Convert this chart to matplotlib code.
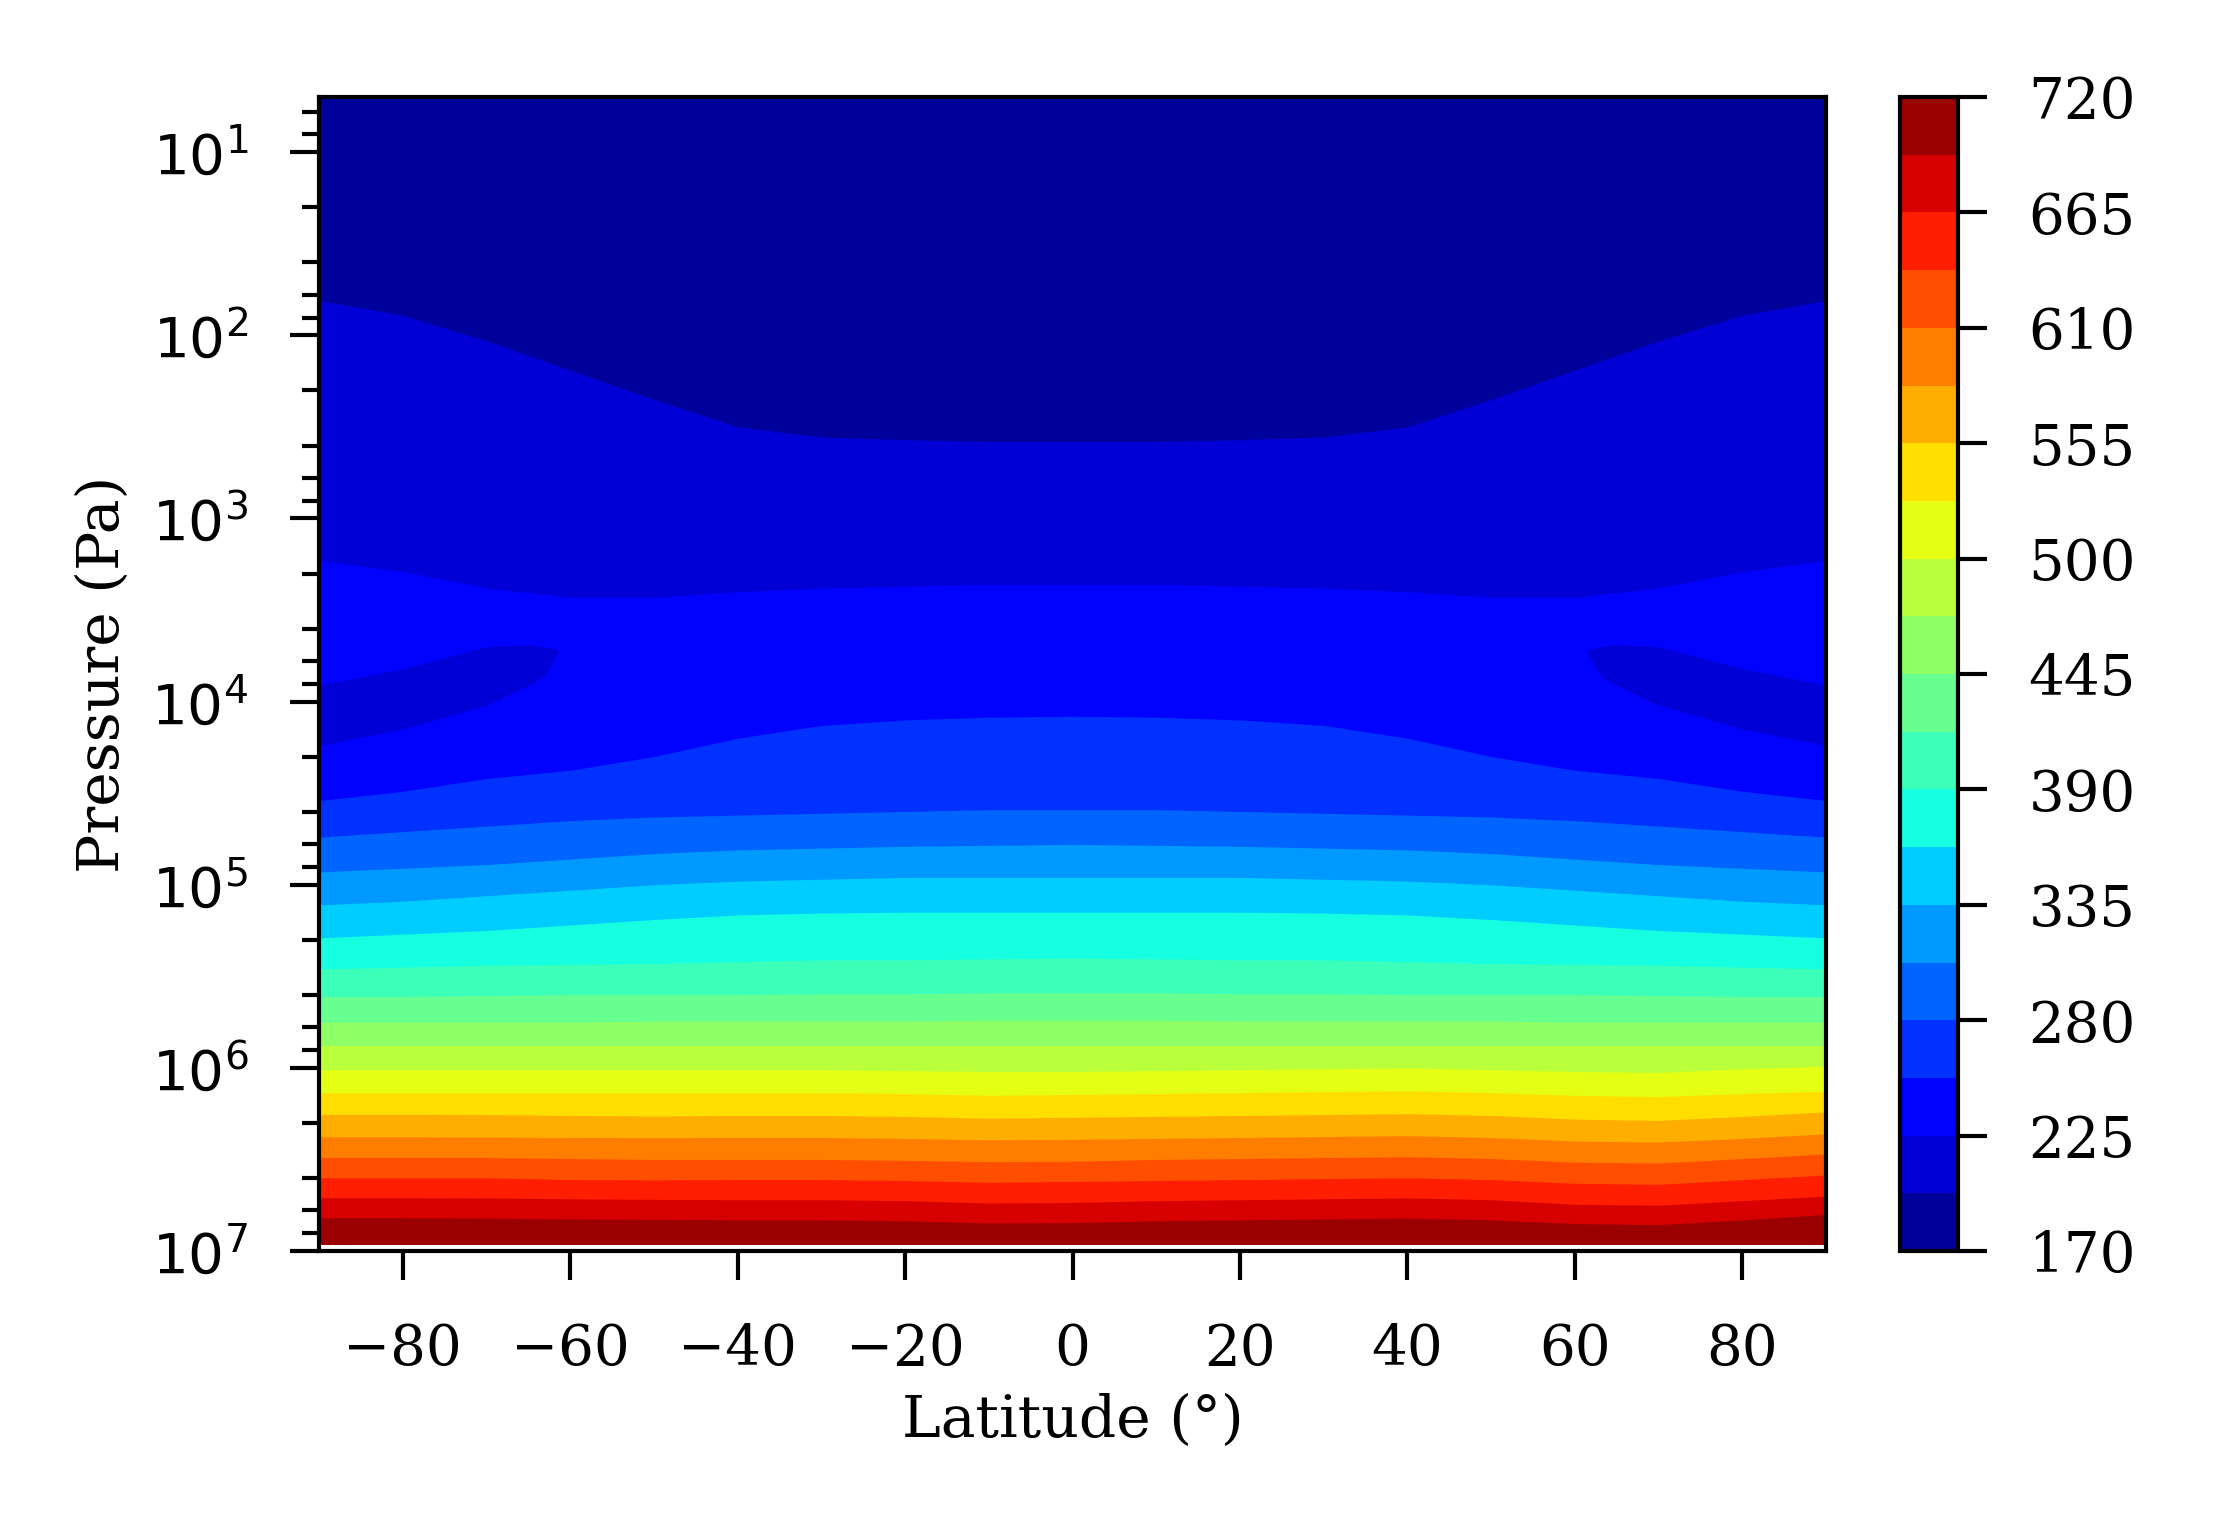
import matplotlib
matplotlib.use("Agg")
import matplotlib.pyplot as plt
import numpy as np
from matplotlib import ticker
from matplotlib.colors import ListedColormap, BoundaryNorm
from matplotlib.cm import ScalarMappable

plt.rcParams['font.family'] = 'DejaVu Serif'
plt.rcParams['mathtext.fontset'] = 'dejavusans'

# latitudes of the read-off points (deg)
lat = [-90, -80, -70, -60, -50, -40, -30, -20, -10, 0, 10, 20, 30, 40, 50, 60, 70, 80, 90]

# temperature levels of the contour bands (K)
levels = [170, 197.5, 225, 252.5, 280, 307.5, 335, 362.5, 390, 417.5, 445,
          472.5, 500, 527.5, 555, 582.5, 610, 637.5, 665, 692.5, 720]
cbar_ticks = [170, 225, 280, 335, 390, 445, 500, 555, 610, 665, 720]
p_ticks = [1e1, 1e2, 1e3, 1e4, 1e5, 1e6, 1e7]
lat_ticks = [-80, -60, -40, -20, 0, 20, 40, 60, 80]

# depth (log10 of pressure in Pa) of each isotherm, read at every latitude
lp_1975 = [1.81, 1.89, 2.03, 2.19, 2.35, 2.50, 2.555, 2.57, 2.58, 2.58, 2.58, 2.57, 2.555, 2.50, 2.35, 2.19, 2.03, 1.89, 1.81]
lp_2250 = [3.23, 3.29, 3.38, 3.43, 3.43, 3.40, 3.38, 3.37, 3.36, 3.36, 3.36, 3.37, 3.38, 3.40, 3.43, 3.43, 3.38, 3.29, 3.23]
lp_2525 = [4.54, 4.49, 4.42, 4.375, 4.30, 4.20, 4.13, 4.10, 4.085, 4.08, 4.085, 4.10, 4.13, 4.20, 4.30, 4.375, 4.42, 4.49, 4.54]
lp_2800 = [4.74, 4.71, 4.68, 4.65, 4.63, 4.62, 4.61, 4.60, 4.59, 4.59, 4.59, 4.60, 4.61, 4.62, 4.63, 4.65, 4.68, 4.71, 4.74]
lp_3075 = [4.93, 4.91, 4.89, 4.86, 4.83, 4.81, 4.80, 4.79, 4.785, 4.78, 4.785, 4.79, 4.80, 4.81, 4.83, 4.86, 4.89, 4.91, 4.93]
lp_3350 = [5.11, 5.09, 5.06, 5.03, 5.00, 4.98, 4.97, 4.96, 4.96, 4.96, 4.96, 4.96, 4.97, 4.98, 5.00, 5.03, 5.06, 5.09, 5.11]
lp_3625 = [5.29, 5.27, 5.25, 5.22, 5.19, 5.165, 5.155, 5.15, 5.15, 5.15, 5.15, 5.15, 5.155, 5.165, 5.19, 5.22, 5.25, 5.27, 5.29]
lp_3900 = [5.46, 5.45, 5.44, 5.435, 5.43, 5.42, 5.41, 5.41, 5.405, 5.40, 5.405, 5.41, 5.41, 5.42, 5.43, 5.435, 5.44, 5.45, 5.46]
lp_4175 = [5.61, 5.61, 5.605, 5.60, 5.60, 5.60, 5.595, 5.595, 5.59, 5.59, 5.59, 5.595, 5.595, 5.60, 5.60, 5.60, 5.605, 5.61, 5.61]
lp_4450 = [5.75, 5.75, 5.75, 5.75, 5.745, 5.745, 5.745, 5.745, 5.74, 5.74, 5.74, 5.745, 5.745, 5.745, 5.745, 5.75, 5.75, 5.75, 5.75]
lp_4725 = [5.88, 5.88, 5.88, 5.88, 5.88, 5.88, 5.88, 5.88, 5.88, 5.88, 5.88, 5.88, 5.88, 5.88, 5.88, 5.88, 5.88, 5.88, 5.88]
lp_5000 = [6.01, 6.01, 6.01, 6.01, 6.01, 6.01, 6.01, 6.015, 6.02, 6.02, 6.015, 6.01, 6.005, 6.00, 6.01, 6.02, 6.025, 6.005, 5.99]
lp_5275 = [6.135, 6.135, 6.135, 6.135, 6.135, 6.135, 6.135, 6.14, 6.15, 6.145, 6.14, 6.135, 6.13, 6.125, 6.135, 6.15, 6.157, 6.14, 6.127]
lp_5550 = [6.254, 6.254, 6.255, 6.26, 6.263, 6.26, 6.26, 6.265, 6.275, 6.27, 6.265, 6.26, 6.255, 6.25, 6.26, 6.28, 6.287, 6.265, 6.24]
lp_5825 = [6.376, 6.376, 6.378, 6.38, 6.381, 6.38, 6.38, 6.385, 6.393, 6.39, 6.385, 6.38, 6.375, 6.37, 6.38, 6.40, 6.405, 6.385, 6.36]
lp_6100 = [6.49, 6.49, 6.49, 6.495, 6.50, 6.50, 6.50, 6.505, 6.512, 6.51, 6.50, 6.495, 6.49, 6.485, 6.495, 6.515, 6.52, 6.495, 6.47]
lp_6375 = [6.60, 6.60, 6.60, 6.61, 6.612, 6.61, 6.61, 6.615, 6.625, 6.62, 6.615, 6.61, 6.605, 6.60, 6.61, 6.63, 6.636, 6.61, 6.585]
lp_6650 = [6.709, 6.709, 6.71, 6.715, 6.718, 6.72, 6.72, 6.725, 6.738, 6.735, 6.725, 6.72, 6.715, 6.71, 6.72, 6.745, 6.75, 6.725, 6.70]
lp_6925 = [6.818, 6.818, 6.82, 6.825, 6.827, 6.83, 6.83, 6.835, 6.847, 6.845, 6.835, 6.83, 6.825, 6.82, 6.83, 6.85, 6.856, 6.83, 6.80]

# cold pockets (197.5-225 K) near 10^4 Pa at high latitudes
pocket_lat_s = [-90, -80, -70, -65, -63, -61.4]
pocket_top_s = [3.91, 3.82, 3.70, 3.69, 3.70, 3.72]
pocket_bot_s = [4.24, 4.15, 4.02, 3.91, 3.86, 3.72]
pocket_lat_n = [61.4, 63, 65, 70, 80, 90]
pocket_top_n = [3.72, 3.70, 3.69, 3.70, 3.82, 3.91]
pocket_bot_n = [3.72, 3.86, 3.91, 4.02, 4.15, 4.24]

# pressure range of the model grid (Pa)
p_top = 5.0
p_bottom = 9.2e6

isotherms = [lp_1975, lp_2250, lp_2525, lp_2800, lp_3075, lp_3350, lp_3625, lp_3900,
             lp_4175, lp_4450, lp_4725, lp_5000, lp_5275, lp_5550, lp_5825, lp_6100,
             lp_6375, lp_6650, lp_6925]

nband = len(levels) - 1
jet = plt.get_cmap('jet')
band_colors = [jet((k + 0.5) / nband) for k in range(nband)]
cmap = ListedColormap(band_colors)
norm = BoundaryNorm(levels, nband)

fig = plt.figure(figsize=(7.38, 5.0867), dpi=300)
ax = fig.add_axes([0.1441, 0.1802, 0.6807, 0.7562])
cax = fig.add_axes([0.8582, 0.1802, 0.0260, 0.7562])

# each band is painted from its upper isotherm down to the bottom,
# the next (warmer) band then covers the lower part
for k in range(nband):
    if k == 0:
        upper = np.full(len(lat), p_top)
    else:
        upper = 10 ** np.array(isotherms[k - 1])
    ax.fill_between(lat, upper, p_bottom, color=band_colors[k], lw=0)

ax.fill_between(pocket_lat_s, 10 ** np.array(pocket_top_s), 10 ** np.array(pocket_bot_s),
                color=band_colors[1], lw=0)
ax.fill_between(pocket_lat_n, 10 ** np.array(pocket_top_n), 10 ** np.array(pocket_bot_n),
                color=band_colors[1], lw=0)

ax.set_yscale('log')
ax.set_ylim(1e7, p_top)
ax.set_xlim(-90, 90)
ax.set_xticks(lat_ticks)
ax.yaxis.set_major_locator(ticker.FixedLocator(p_ticks))
ax.yaxis.set_major_formatter(ticker.FuncFormatter(lambda v, pos: r'$10^{%d}$' % round(np.log10(v))))
ax.yaxis.set_minor_locator(ticker.LogLocator(base=10, subs=[2, 4, 6, 8], numticks=40))
ax.yaxis.set_minor_formatter(ticker.NullFormatter())

ax.tick_params(which='major', length=7, width=1, pad=10, labelsize=13.5)
ax.tick_params(which='minor', length=4, width=1)
for s in ax.spines.values():
    s.set_linewidth(1)

ax.set_xlabel('Latitude (°)', fontsize=14)
ax.set_ylabel('Pressure (Pa)', fontsize=14, labelpad=5)

sm = ScalarMappable(norm=norm, cmap=cmap)
cb = fig.colorbar(sm, cax=cax, ticks=cbar_ticks)
cb.ax.yaxis.set_minor_locator(ticker.NullLocator())
cb.ax.tick_params(length=7, width=1, pad=10, labelsize=13.5)
cb.outline.set_linewidth(1)

fig.savefig('out.png', dpi=300)
